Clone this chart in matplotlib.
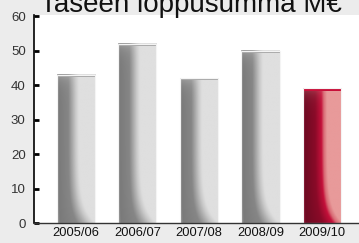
import numpy as np
import matplotlib
matplotlib.use("Agg")
import matplotlib.pyplot as plt
from matplotlib.colors import to_rgb

# data
seasons = ["2005/06", "2006/07", "2007/08", "2008/09", "2009/10"]
values = [43, 52, 42, 50, 39]
highlight = [False, False, False, False, True]
title = "Taseen loppusumma M€"
yticks = [0, 10, 20, 30, 40, 50, 60]

plt.rcParams['font.family'] = ['Liberation Sans', 'DejaVu Sans']

gray_stops = [(0.0, '#a0a0a0'), (0.07, '#7a7a7a'), (0.5, '#868686'),
              (0.82, '#c8c8c8'), (0.95, '#dcdcdc'), (1.0, '#dfdfdf')]
red_stops = [(0.0, '#9a2040'), (0.07, '#6e0a22'), (0.5, '#8a0a28'),
             (0.76, '#c4103a'), (0.86, '#d86a74'), (1.0, '#e89a9a')]

def bar_image(h, stops, base, foot=4.5, n=60, m=220):
 # horizontal shading, the dark part widens near the bottom
 pos = np.array([s[0] for s in stops])
 cols = np.array([to_rgb(s[1]) for s in stops])
 u = np.linspace(0, 1, n)[None, :]
 v = np.linspace(h, 0, m)[:, None]
 b = base + (1.02 - base) * np.exp(-v / foot)
 t = np.clip(u / b, 0, 1)
 img = np.stack([np.interp(t, pos, cols[:, k]) for k in range(3)], axis=-1)
 light = cols[-1]
 top = (0.35 * np.exp(-(h - v) / 2.0))[..., None]
 img = img * (1 - top) + light * top
 return np.clip(img, 0, 1)

fig = plt.figure(figsize=(3.59, 2.43), dpi=100)
fig.patch.set_facecolor('#ececec')
ax = fig.add_axes([34/359, 20/243, 325/359, 208/243])
ax.set_facecolor('white')

w = 0.62
x = np.arange(len(values))
for xi, h, hl in zip(x, values, highlight):
 if hl:
  img = bar_image(h, red_stops, 0.62)
  cap = '#c8103a'
 else:
  img = bar_image(h, gray_stops, 0.58)
  cap = '#a8a8a8'
 ax.imshow(img, extent=[xi - w/2, xi + w/2, 0, h], aspect='auto',
           interpolation='bilinear', zorder=2)
 ax.fill_between([xi - w/2, xi + w/2], h - 0.6, h, color=cap, lw=0, zorder=3)
 ax.add_patch(plt.Rectangle((xi - w/2, 0), w, h, fill=False,
                            ec='#f4f4f4', lw=0.8, zorder=4))

ax.set_xlim(-0.68, len(values) - 1 + 0.6)
ax.set_ylim(0, 60.3)
ax.set_xticks(x)
ax.set_xticklabels(seasons)
ax.set_yticks(yticks)

for s in ['top', 'right']:
 ax.spines[s].set_visible(False)
ax.spines['left'].set_color('black')
ax.spines['left'].set_linewidth(1.2)
ax.spines['bottom'].set_color('#333333')
ax.spines['bottom'].set_linewidth(1.0)
ax.spines['left'].set_zorder(5)
ax.spines['bottom'].set_zorder(5)

ax.tick_params(axis='y', direction='in', length=3.5, width=2, color='black',
               labelsize=9.5, labelcolor='#333333', pad=6)
ax.tick_params(axis='x', length=0, labelsize=9.3, labelcolor='#111111', pad=3)

fig.text(191/359, 1 - 12/243, title, ha='center', va='baseline',
         fontsize=20, color='#111111')

fig.savefig('out.png', dpi=100, facecolor=fig.get_facecolor())
